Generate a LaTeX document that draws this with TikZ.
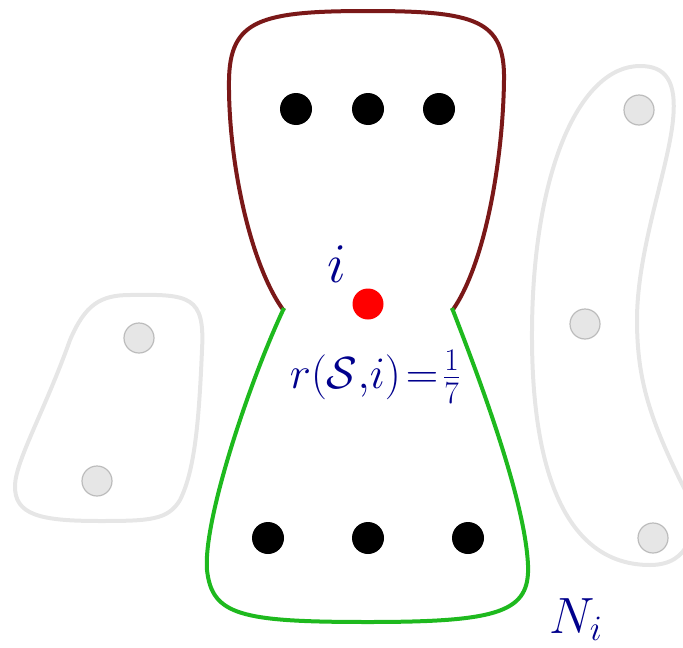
\RequirePackage{fix-cm}
\documentclass[tikz,border=0pt]{standalone}
\definecolor{lbl}{RGB}{0,0,140}
\definecolor{upc}{RGB}{122,24,24}
\definecolor{loc}{RGB}{30,185,30}
\definecolor{grl}{RGB}{230,230,230}
\definecolor{grd}{RGB}{188,188,188}
\tikzset{
  bdot/.style={circle, fill=black, inner sep=0pt, minimum size=32pt},
  rdot/.style={circle, fill=red, inner sep=0pt, minimum size=31pt},
  gdot/.style={circle, fill=grl, draw=grd, line width=1.2pt, inner sep=0pt, minimum size=30pt},
  gset/.style={draw=grl, line width=4pt},
  lab/.style={text=lbl, inner sep=0pt, anchor=base},
}
\begin{document}
\begin{tikzpicture}[x=1pt,y=-1pt]
\useasboundingbox (0,0) rectangle (683,648);
% gray sets
\draw[gset] (130,295) .. controls (190,294) and (205,296) .. (202,350)
  .. controls (199,420) and (195,470) .. (180,500)
  .. controls (168,520) and (150,521) .. (100,521)
  .. controls (40,521) and (14,515) .. (15,485)
  .. controls (16,460) and (45,410) .. (70,340)
  .. controls (85,305) and (100,295) .. (130,295) -- cycle;
\draw[gset] (640,66) .. controls (580,66) and (533,170) .. (532,330)
  .. controls (531,480) and (570,565) .. (650,565)
  .. controls (690,565) and (700,530) .. (685,490)
  .. controls (650,420) and (637,380) .. (637,320)
  .. controls (637,250) and (668,170) .. (673,120)
  .. controls (677,80) and (665,66) .. (640,66) -- cycle;
\node[gdot] (g1) at (139,338) {};
\node[gdot] (g2) at (97,481) {};
\node[gdot] (g3) at (639,110) {};
\node[gdot] (g4) at (585,324) {};
\node[gdot] (g5) at (653,538) {};
% upper curve
\coordinate (ul) at (284,311);
\coordinate (ur) at (452,311);
\coordinate (ll) at (284,308);
\coordinate (lr) at (452,308);
\draw[upc, line width=4pt] (ul) .. controls (250,265) and (228,160) .. (229,80)
  .. controls (230,20) and (260,11) .. (368,11)
  .. controls (476,11) and (505,20) .. (504,80)
  .. controls (503,160) and (485,265) .. (ur);
\draw[loc, line width=4pt] (ll) .. controls (250,380) and (203,520) .. (207,570)
  .. controls (212,615) and (240,622) .. (368,622)
  .. controls (500,622) and (530,612) .. (528,565)
  .. controls (525,500) and (480,380) .. (lr);
% dots
\node[bdot] (a1) at (296,109) {};
\node[bdot] (a2) at (368,109) {};
\node[bdot] (a3) at (439,109) {};
\node[bdot] (b1) at (268,538) {};
\node[bdot] (b2) at (368,538) {};
\node[bdot] (b3) at (468,538) {};
\node[rdot] (c) at (368,304) {};
% labels
\node[lab] (li) at (337,282) {\fontsize{56}{66}\selectfont$i$};
\node[lab] (lr7) at (375,388) {\fontsize{45}{54}\selectfont$r(\mathcal{S},\!i)\!=\!\frac{1}{7}$};
\node[lab] (ln) at (576,633) {\fontsize{51}{60}\selectfont$N_i$};
\end{tikzpicture}
\end{document}
